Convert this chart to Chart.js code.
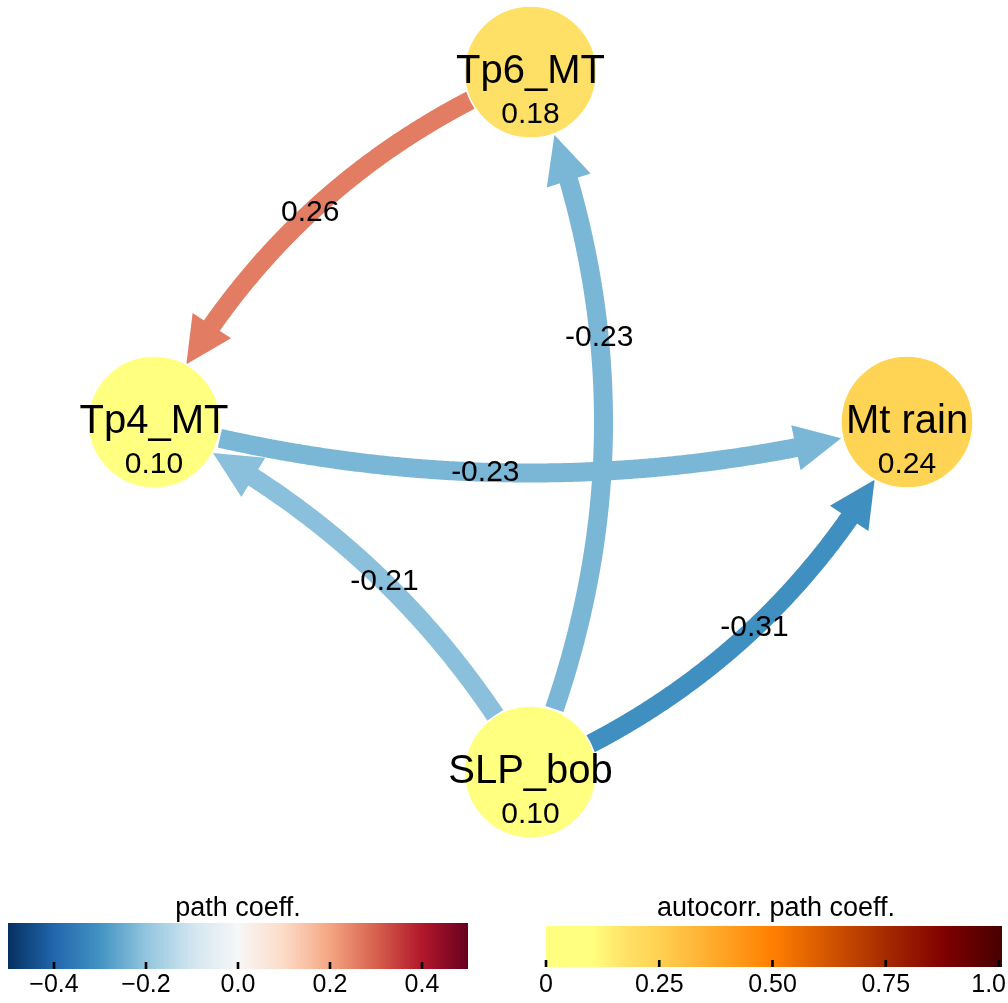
<!DOCTYPE html>
<html>
<head>
<meta charset="utf-8">
<script src="https://cdn.jsdelivr.net/npm/chart.js@4.4.1/dist/chart.umd.min.js"></script>
<style>
  html, body { margin: 0; padding: 0; background: #fff; }
  #wrap { width: 1008px; height: 1003px; position: relative; }
</style>
</head>
<body>
<div id="wrap"><canvas id="graphChart"></canvas></div>
<script>
// Nodes, in circular layout order (right, top, left, bottom)
const nodeNames = ['Mt rain', 'Tp6_MT', 'Tp4_MT', 'SLP_bob'];
const nodeAutocorr = [0.24, 0.18, 0.10, 0.10];

// Links between nodes
const linkFrom = ['Tp6_MT', 'SLP_bob', 'Tp4_MT', 'SLP_bob', 'SLP_bob'];
const linkTo = ['Tp4_MT', 'Tp6_MT', 'Mt rain', 'Tp4_MT', 'Mt rain'];
const linkValues = [0.26, -0.23, -0.23, -0.21, -0.31];

// Colorbar ticks
const pathTicks = [-0.4, -0.2, 0.0, 0.2, 0.4];
const pathTickLabels = ['\u22120.4', '\u22120.2', '0.0', '0.2', '0.4'];
const autoTicks = [0, 0.25, 0.5, 0.75, 1.0];
const autoTickLabels = ['0', '0.25', '0.50', '0.75', '1.0'];

// Styling of the curved links (px bend of the arc, where the label sits along it)
const linkBend = [47, 73, 51, 40, 47];
const labelAlong = [0.5, 0.62, 0.44, 0.46, 0.51];

const FONT = "'Liberation Sans', Arial, sans-serif";
const NODE_R = 66;

// Colormaps
const rdbuStops = ['#053061', '#2166ac', '#4393c3', '#92c5de', '#d1e5f0', '#f7f7f7',
                   '#fddbc7', '#f4a582', '#d6604d', '#b2182b', '#67001f'];
const autoStops = [[0, '#ffff80'], [0.1, '#ffff80'], [0.18, '#ffe066'], [0.24, '#ffd455'],
                   [0.5, '#ff8000'], [0.75, '#a52a00'], [0.88, '#800000'], [1, '#4a0000']];

function hexToRgb(h) {
    return [parseInt(h.slice(1, 3), 16), parseInt(h.slice(3, 5), 16), parseInt(h.slice(5, 7), 16)];
}

function mix(a, b, f) {
    const ca = hexToRgb(a), cb = hexToRgb(b);
    const c = ca.map((v, i) => Math.round(v + (cb[i] - v) * f));
    return `rgb(${c[0]}, ${c[1]}, ${c[2]})`;
}

function pathColor(v) {
    const p = Math.max(0, Math.min(1, v + 0.5)) * (rdbuStops.length - 1);
    const i = Math.min(Math.floor(p), rdbuStops.length - 2);
    return mix(rdbuStops[i], rdbuStops[i + 1], p - i);
}

function autoColor(v) {
    for (let i = 0; i < autoStops.length - 1; i++) {
        const [a, ca] = autoStops[i], [b, cb] = autoStops[i + 1];
        if (v <= b) return mix(ca, cb, (v - a) / (b - a));
    }
    return autoStops[autoStops.length - 1][1];
}

// Circular layout in data coordinates
const nodePoints = nodeNames.map((n, i) => {
    const a = i * Math.PI / 2;
    return { x: Math.round(Math.cos(a) * 1000) / 1000, y: Math.round(Math.sin(a) * 1000) / 1000 };
});

function bez(p0, c, p2, t) {
    const u = 1 - t;
    return { x: u * u * p0.x + 2 * u * t * c.x + t * t * p2.x,
             y: u * u * p0.y + 2 * u * t * c.y + t * t * p2.y };
}

function dist(a, b) {
    return Math.hypot(a.x - b.x, a.y - b.y);
}

function nodePixel(chart, name) {
    const p = nodePoints[nodeNames.indexOf(name)];
    return { x: chart.scales.x.getPixelForValue(p.x), y: chart.scales.y.getPixelForValue(p.y) };
}

function linkGeometry(chart, k) {
    const p0 = nodePixel(chart, linkFrom[k]);
    const p2 = nodePixel(chart, linkTo[k]);
    const len = dist(p0, p2);
    const dx = (p2.x - p0.x) / len, dy = (p2.y - p0.y) / len;
    const nx = -dy, ny = dx;
    const c = { x: (p0.x + p2.x) / 2 + nx * 2 * linkBend[k], y: (p0.y + p2.y) / 2 + ny * 2 * linkBend[k] };
    return { p0, c, p2 };
}

function drawLinks(chart) {
    const ctx = chart.ctx;
    const headLen = 46, headW = 46, shaftW = 19;
    ctx.save();
    linkValues.forEach((v, k) => {
        const { p0, c, p2 } = linkGeometry(chart, k);
        const N = 400;
        const pts = [];
        for (let i = 0; i <= N; i++) pts.push(bez(p0, c, p2, i / N));
        let i0 = pts.findIndex(p => dist(p, p0) >= NODE_R);
        let i1 = N;
        while (i1 > 0 && dist(pts[i1], p2) < NODE_R) i1--;
        const tip = pts[i1];
        let ib = i1;
        while (ib > i0 && dist(pts[ib], tip) < headLen) ib--;
        let is = i1;
        while (is > i0 && dist(pts[is], tip) < headLen - 6) is--;
        const base = pts[ib];
        const col = pathColor(v);

        ctx.strokeStyle = col;
        ctx.lineWidth = shaftW;
        ctx.lineCap = 'butt';
        ctx.lineJoin = 'round';
        ctx.beginPath();
        ctx.moveTo(pts[i0].x, pts[i0].y);
        for (let i = i0 + 1; i <= is; i++) ctx.lineTo(pts[i].x, pts[i].y);
        ctx.stroke();

        const L = dist(tip, base);
        const ux = (tip.x - base.x) / L, uy = (tip.y - base.y) / L;
        ctx.fillStyle = col;
        ctx.beginPath();
        ctx.moveTo(tip.x, tip.y);
        ctx.lineTo(base.x - uy * headW / 2, base.y + ux * headW / 2);
        ctx.lineTo(base.x + uy * headW / 2, base.y - ux * headW / 2);
        ctx.closePath();
        ctx.fill();
    });
    ctx.restore();
}

function drawLabels(chart) {
    const ctx = chart.ctx;
    ctx.save();
    ctx.fillStyle = '#000';
    ctx.textAlign = 'center';
    // node names and autocorrelation values
    nodeNames.forEach((n, i) => {
        const p = nodePixel(chart, n);
        ctx.textBaseline = 'alphabetic';
        ctx.font = `40px ${FONT}`;
        ctx.fillText(n, p.x, p.y + 11);
        ctx.font = `30px ${FONT}`;
        ctx.fillText(nodeAutocorr[i].toFixed(2), p.x, p.y + 51);
    });
    // link values
    ctx.font = `30px ${FONT}`;
    ctx.textBaseline = 'middle';
    linkValues.forEach((v, k) => {
        const { p0, c, p2 } = linkGeometry(chart, k);
        const q = bez(p0, c, p2, labelAlong[k]);
        ctx.fillText(v.toFixed(2), q.x, q.y);
    });
    ctx.restore();
}

function drawColorbar(ctx, opts) {
    const { x, y, w, h, min, max, ticks, labels, title, titleX, colorAt } = opts;
    const grad = ctx.createLinearGradient(x, 0, x + w, 0);
    for (let i = 0; i <= 50; i++) {
        grad.addColorStop(i / 50, colorAt(min + (max - min) * i / 50));
    }
    ctx.fillStyle = grad;
    ctx.fillRect(x, y, w, h);

    ctx.fillStyle = '#000';
    ticks.forEach((t, i) => {
        const tx = x + (t - min) / (max - min) * w;
        ctx.fillRect(tx - 1.3, y + h - 7, 2.6, 7);
        ctx.font = `25px ${FONT}`;
        ctx.textAlign = 'center';
        ctx.textBaseline = 'alphabetic';
        const tw = ctx.measureText(labels[i]).width;
        let lx = tx;
        if (lx + tw / 2 > 1006) lx = 1006 - tw / 2;
        ctx.fillText(labels[i], lx, 992);
    });
    ctx.font = `27px ${FONT}`;
    ctx.textAlign = 'center';
    ctx.fillText(title, titleX, 916);
}

const graphPlugin = {
    id: 'graphPlugin',
    beforeDatasetsDraw(chart) {
        drawLinks(chart);
    },
    afterDatasetsDraw(chart) {
        drawLabels(chart);
        const ctx = chart.ctx;
        ctx.save();
        drawColorbar(ctx, {
            x: 8, y: 923, w: 460, h: 46, min: -0.5, max: 0.5,
            ticks: pathTicks, labels: pathTickLabels,
            title: 'path coeff.', titleX: 238, colorAt: pathColor
        });
        drawColorbar(ctx, {
            x: 546, y: 926, w: 456, h: 41, min: 0, max: 1.0066,
            ticks: autoTicks, labels: autoTickLabels,
            title: 'autocorr. path coeff.', titleX: 776, colorAt: autoColor
        });
        ctx.restore();
    }
};

function initGraphChart() {
    const ctx = document.getElementById('graphChart').getContext('2d');
    new Chart(ctx, {
        type: 'scatter',
        data: {
            labels: nodeNames,
            datasets: [{
                label: 'nodes',
                data: nodePoints,
                pointRadius: NODE_R,
                pointHoverRadius: NODE_R,
                pointBackgroundColor: nodeAutocorr.map(autoColor),
                pointBorderColor: '#ffffff',
                pointBorderWidth: 1.5,
                clip: false
            }]
        },
        options: {
            responsive: true,
            maintainAspectRatio: false,
            animation: false,
            events: [],
            layout: { padding: { left: 154, right: 101, top: 72, bottom: 231 } },
            plugins: {
                legend: { display: false },
                tooltip: { enabled: false }
            },
            scales: {
                x: { type: 'linear', min: -1, max: 1, display: false },
                y: { type: 'linear', min: -1, max: 1, display: false }
            }
        },
        plugins: [graphPlugin]
    });
}

document.addEventListener('DOMContentLoaded', () => {
    initGraphChart();
});
</script>
</body>
</html>
